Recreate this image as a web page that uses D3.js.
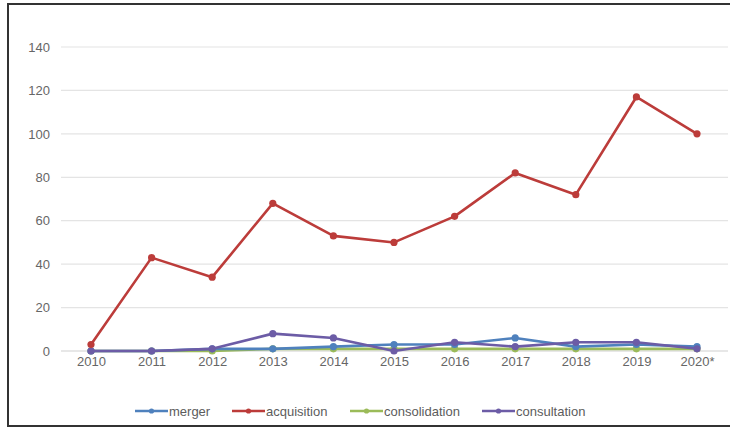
<!DOCTYPE html>
<html>
<head>
<meta charset="utf-8">
<script src="https://cdn.jsdelivr.net/npm/d3@7"></script>
<style>
  html, body { margin: 0; padding: 0; background: #fff; }
  svg { display: block; font-family: "Liberation Sans", Arial, sans-serif; }
</style>
</head>
<body>
<svg id="chart" width="730" height="429"></svg>
<script>
// Deal counts per year by type of transaction
const years = ["2010", "2011", "2012", "2013", "2014", "2015", "2016", "2017", "2018", "2019", "2020*"];
const merger        = [0, 0, 1, 1, 2, 3, 3, 6, 2, 3, 2];
const acquisition   = [3, 43, 34, 68, 53, 50, 62, 82, 72, 117, 100];
const consolidation = [0, 0, 0, 1, 1, 1, 1, 1, 1, 1, 1];
const consultation  = [0, 0, 1, 8, 6, 0, 4, 2, 4, 4, 1];
const yTicks = [0, 20, 40, 60, 80, 100, 120, 140];

const series = [
  { name: "merger",        values: merger,        color: "#4f81bd" },
  { name: "acquisition",   values: acquisition,   color: "#bc3c3a" },
  { name: "consolidation", values: consolidation, color: "#9bbb59" },
  { name: "consultation",  values: consultation,  color: "#6c5ca6" }
];

const svg = d3.select("#chart");
const W = 730;

// outer frame
svg.append("rect")
  .attr("x", 8).attr("y", 4)
  .attr("width", W).attr("height", 422)
  .attr("fill", "none").attr("stroke", "#333").attr("stroke-width", 2);

const x = d3.scalePoint().domain(years).range([91, 697]);
const y = d3.scaleLinear().domain([0, 140]).range([351, 47]);
const plotLeft = 61, plotRight = 728;

// gridlines
svg.append("g").selectAll("line").data(yTicks.filter(d => d > 0)).join("line")
  .attr("x1", plotLeft).attr("x2", plotRight)
  .attr("y1", d => y(d)).attr("y2", d => y(d))
  .attr("stroke", "#e4e4e4").attr("stroke-width", 1.2);

// y axis labels
const yAxis = d3.axisLeft(y).tickValues(yTicks).tickSize(0).tickPadding(0);
const gy = svg.append("g").attr("transform", "translate(50,0)").call(yAxis);
gy.select(".domain").remove();
gy.selectAll("text").attr("font-size", 13).attr("fill", "#666")
  .attr("font-family", "Liberation Sans, Arial, sans-serif");

// x axis baseline and labels
svg.append("line")
  .attr("x1", plotLeft).attr("x2", plotRight)
  .attr("y1", y(0)).attr("y2", y(0))
  .attr("stroke", "#d0d0d0").attr("stroke-width", 1.2);
const xAxis = d3.axisBottom(x).tickSize(0).tickPadding(0);
const gx = svg.append("g").attr("transform", `translate(0,${y(0) + 6})`).call(xAxis);
gx.select(".domain").remove();
gx.selectAll("text").attr("font-size", 13).attr("fill", "#666").attr("dy", "0.71em")
  .attr("font-family", "Liberation Sans, Arial, sans-serif");

// series lines and markers
const line = d3.line().x((d, i) => x(years[i])).y(d => y(d));
const draw = [series[2], series[0], series[3], series[1]];
draw.forEach(s => {
  const g = svg.append("g");
  g.append("path").datum(s.values)
    .attr("d", line).attr("fill", "none")
    .attr("stroke", s.color).attr("stroke-width", 2.6)
    .attr("stroke-linejoin", "round");
  g.selectAll("circle").data(s.values).join("circle")
    .attr("cx", (d, i) => x(years[i])).attr("cy", d => y(d))
    .attr("r", 3.6).attr("fill", s.color);
});

// legend
const legendX = [135, 232, 350, 482];
const legendY = 411;
series.forEach((s, i) => {
  const g = svg.append("g").attr("transform", `translate(${legendX[i]},${legendY})`);
  g.append("line").attr("x1", 0).attr("x2", 33).attr("y1", 0).attr("y2", 0)
    .attr("stroke", s.color).attr("stroke-width", 2.6);
  g.append("circle").attr("cx", 16.5).attr("cy", 0).attr("r", 2.6).attr("fill", s.color);
  g.append("text").attr("x", 34).attr("y", 0).attr("dy", "0.35em")
    .attr("font-size", 13).attr("fill", "#5c5c5c").text(s.name);
});
</script>
</body>
</html>
